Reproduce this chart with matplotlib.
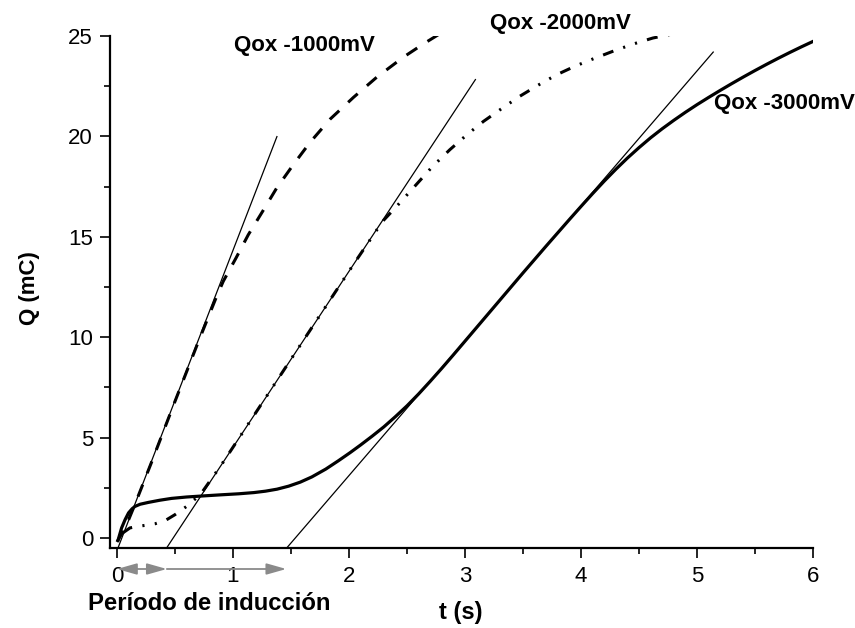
import matplotlib
matplotlib.use("Agg")
import matplotlib.pyplot as plt
from matplotlib.ticker import MultipleLocator
from matplotlib.transforms import blended_transform_factory

plt.rcParams['font.family'] = ['Liberation Sans', 'DejaVu Sans']

# Charge curves Q(t) at three oxidation potentials
t_1000 = [0.0, 0.05, 0.1, 0.15, 0.3, 0.5, 0.7, 0.85, 0.916, 1.026, 1.132, 1.256,
          1.377, 1.52, 1.664, 1.836, 2.04, 2.24, 2.47, 2.64, 2.78]
q_1000 = [-0.2, 0.3, 0.9, 1.6, 3.8, 6.8, 9.75, 11.9, 12.78, 13.94, 15.1, 16.27,
          17.43, 18.59, 19.7, 20.85, 21.95, 22.95, 23.95, 24.6, 25.1]

t_2000 = [0.05, 0.112, 0.18, 0.26, 0.33, 0.42, 0.5, 0.6, 0.67, 0.73, 0.9, 1.2, 1.5,
          1.8, 2.05, 2.29, 2.41, 2.58, 2.72, 2.87, 3.02, 3.16, 3.32, 3.47, 3.63,
          3.79, 3.95, 4.1, 4.28, 4.45, 4.62, 4.79]
q_2000 = [0.25, 0.5, 0.58, 0.64, 0.71, 0.88, 1.16, 1.57, 1.92, 2.25, 3.64, 6.27, 8.9,
          11.53, 13.72, 15.77, 16.51, 17.6, 18.5, 19.34, 20.1, 20.75, 21.4, 21.99,
          22.55, 23.07, 23.5, 23.85, 24.25, 24.6, 24.9, 25.1]

t_3000 = [0.01, 0.04, 0.07, 0.1, 0.13, 0.155, 0.2, 0.27, 0.37, 0.47, 0.6, 0.76, 0.9,
          1.05, 1.18, 1.28, 1.38, 1.48, 1.58, 1.68, 1.8, 1.91, 2.01, 2.1, 2.2, 2.3,
          2.4, 2.5, 2.6, 2.7, 2.8, 2.9, 3.0, 3.1, 3.2, 3.3, 3.4, 3.5, 3.6, 3.7, 3.8,
          3.9, 4.0, 4.1, 4.2, 4.3, 4.4, 4.5, 4.6, 4.7, 4.8, 4.9, 5.0, 5.1, 5.2, 5.3,
          5.4, 5.5, 5.6, 5.7, 5.8, 5.9, 6.0]
q_3000 = [-0.1, 0.5, 0.91, 1.25, 1.45, 1.57, 1.68, 1.77, 1.88, 1.97, 2.04, 2.1, 2.15,
          2.2, 2.26, 2.33, 2.43, 2.58, 2.78, 3.04, 3.43, 3.85, 4.25, 4.63, 5.07, 5.53,
          6.04, 6.58, 7.17, 7.8, 8.45, 9.12, 9.8, 10.48, 11.16, 11.84, 12.52, 13.2,
          13.87, 14.54, 15.2, 15.86, 16.51, 17.15, 17.77, 18.36, 18.92, 19.44, 19.93,
          20.38, 20.8, 21.2, 21.58, 21.94, 22.29, 22.63, 22.96, 23.28, 23.59, 23.89,
          24.18, 24.46, 24.73]

# Tangent lines through the linear growth regions (start/end points)
tangent_t = [[0.01, 1.379], [0.43, 3.09], [1.466, 5.14]]
tangent_q = [[-0.48, 19.99], [-0.48, 22.83], [-0.48, 24.2]]

# Induction period markers on the time axis
induction_t = [0.0, 0.43, 1.46]

curve_labels = ['Qox -1000mV', 'Qox -2000mV', 'Qox -3000mV']
label_pos = [(1.62, 24.52), (3.82, 25.6), (5.75, 21.63)]

W, H = 855, 628
fig = plt.figure(figsize=(W / 100, H / 100), dpi=100)
ax = fig.add_axes([110 / W, 1 - 548 / H, (813 - 110) / W, (548 - 36) / H])

ax.plot(t_1000, q_1000, color='black', lw=2.2, dashes=(4.2, 4.0),
        dash_capstyle='butt')
ax.plot(t_2000, q_2000, color='black', lw=2.2,
        dashes=(3.6, 3.4, 0.7, 3.4, 0.7, 3.4), dash_capstyle='butt')
ax.plot(t_3000, q_3000, color='black', lw=2.3, solid_joinstyle='round')

for tt, qq in zip(tangent_t, tangent_q):
    ax.plot(tt, qq, color='black', lw=0.9)

for txt, (x, y) in zip(curve_labels, label_pos):
    ax.text(x, y, txt, ha='center', va='center', fontsize=16,
            fontweight='bold', clip_on=False)

ax.set_xlim(-0.06, 6)
ax.set_ylim(-0.5, 25)
ax.xaxis.set_major_locator(MultipleLocator(1))
ax.xaxis.set_minor_locator(MultipleLocator(0.5))
ax.yaxis.set_major_locator(MultipleLocator(5))
ax.yaxis.set_minor_locator(MultipleLocator(2.5))

for side in ('top', 'right'):
    ax.spines[side].set_visible(False)
for side in ('left', 'bottom'):
    ax.spines[side].set_linewidth(1.6)
ax.spines['left'].set_bounds(-0.5, 25)
ax.spines['bottom'].set_bounds(-0.06, 6)

ax.tick_params(which='major', direction='out', length=7.2, width=1.2,
               labelsize=16, colors='black')
ax.tick_params(which='minor', direction='out', length=4.2, width=1.2)
ax.tick_params(axis='x', which='major', pad=6)
ax.tick_params(axis='y', which='major', pad=5)

# Gray arrows marking the induction periods
trans = blended_transform_factory(ax.transData, ax.transAxes)
ya = (548 - 569) / (548 - 36)
arrow_kw = dict(color='#8a8a8a', lw=1.3, shrinkA=0, shrinkB=0,
                mutation_scale=20)
ax.annotate('', xy=(induction_t[0], ya), xytext=(induction_t[1], ya),
            xycoords=trans, textcoords=trans, annotation_clip=False,
            arrowprops=dict(arrowstyle='<|-|>,head_length=0.6,head_width=0.17',
                            **arrow_kw))
ax.annotate('', xy=(induction_t[2], ya), xytext=(induction_t[1], ya),
            xycoords=trans, textcoords=trans, annotation_clip=False,
            arrowprops=dict(arrowstyle='-|>,head_length=0.6,head_width=0.17',
                            **arrow_kw))

fig.text(30 / W, 1 - 288 / H, 'Q (mC)', rotation=90, ha='center', va='center',
         fontsize=16, fontweight='bold')
fig.text(461 / W, 1 - 612 / H, 't (s)', ha='center', va='center',
         fontsize=17, fontweight='bold')
fig.text(209 / W, 1 - 603 / H, 'Período de inducción', ha='center', va='center',
         fontsize=17.2, fontweight='bold')

fig.savefig('out.png', dpi=100)
